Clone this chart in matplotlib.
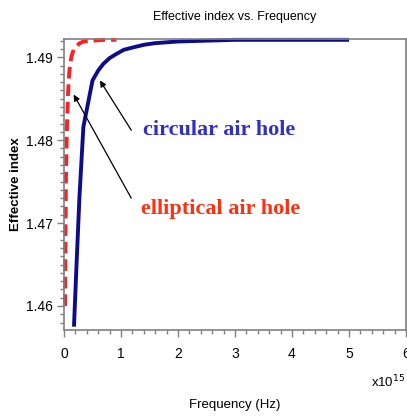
import matplotlib
matplotlib.use("Agg")
import matplotlib.pyplot as plt
from matplotlib.ticker import MultipleLocator

# Data (frequency in units of 1e15 Hz)
circ_freq = [0.175, 0.22, 0.27, 0.34, 0.42, 0.50, 0.60, 0.69, 0.80, 0.92, 1.05, 1.22, 1.40, 1.60, 2.0, 2.5, 3.0, 4.0, 5.0]
circ_neff = [1.4575, 1.4650, 1.4730, 1.4816, 1.4844, 1.4872, 1.4884, 1.4892, 1.4899, 1.4904, 1.4909, 1.4912, 1.4915, 1.4917, 1.4919, 1.4920, 1.4921, 1.4921, 1.4921]
ell_freq = [0.018, 0.025, 0.035, 0.05, 0.07, 0.09, 0.11, 0.135, 0.17, 0.22, 0.28, 0.34, 0.50, 0.70, 0.92]
ell_neff = [1.4600, 1.4680, 1.4760, 1.4812, 1.4855, 1.4880, 1.4893, 1.4902, 1.4909, 1.4914, 1.4917, 1.4919, 1.4920, 1.4921, 1.4921]

x_ticks = [0, 1, 2, 3, 4, 5, 6]
y_ticks = [1.46, 1.47, 1.48, 1.49]
y_tick_labels = ["1.46", "1.47", "1.48", "1.49"]

fig = plt.figure(figsize=(4.07, 4.17), dpi=100)
ax = fig.add_axes([64/407, 1 - 330/417, (406-64)/407, (330-39)/417])

ax.plot(circ_freq, circ_neff, color="#0d0d8c", lw=2.8, solid_capstyle="butt", clip_on=False)
ax.plot(ell_freq, ell_neff, color="#ff2020", lw=2.8, ls=(0, (3, 1.5)), clip_on=False)

ax.set_xlim(0, 6)
ax.set_ylim(1.4571, 1.4922)
ax.set_xticks(x_ticks)
ax.set_xticklabels([str(t) for t in x_ticks])
ax.set_yticks(y_ticks)
ax.set_yticklabels(y_tick_labels)
ax.xaxis.set_minor_locator(MultipleLocator(0.2))
ax.yaxis.set_minor_locator(MultipleLocator(0.001))

for s in ax.spines.values():
    s.set_color("#808080")
    s.set_linewidth(1.2)
ax.tick_params(which="major", direction="out", length=5, width=1, color="#808080",
               labelsize=10, labelcolor="black", pad=3)
ax.tick_params(axis="x", which="major", pad=7)
ax.tick_params(which="minor", direction="out", length=3, width=1, color="#808080")
for lab in ax.get_xticklabels() + ax.get_yticklabels():
    lab.set_family("Liberation Sans")

ax.set_title("Effective index vs. Frequency", fontsize=9, family="Liberation Sans", pad=14)
ax.set_xlabel("Frequency (Hz)", fontsize=9.5, family="Liberation Sans")
ax.xaxis.set_label_coords(0.5, -(405 - 330) / 291, transform=ax.transAxes)
ax.xaxis.label.set_va("center")
ax.set_ylabel("Effective index", fontsize=9.5, family="Liberation Sans", fontweight="bold")
ax.yaxis.set_label_coords(-(64 - 16) / 342, 0.5)
ax.yaxis.label.set_va("center")
fig.text(371/407, 1 - 382/417, r"x10$^{15}$", fontsize=9.5, family="Liberation Sans", va="center", ha="left")

arrow_kw = dict(arrowstyle="-|>", color="black", lw=0.9, mutation_scale=9, shrinkA=0, shrinkB=0)
ax.annotate("", xy=(0.63, 1.4872), xytext=(1.18, 1.4812), arrowprops=arrow_kw)
ax.annotate("", xy=(0.17, 1.4855), xytext=(1.18, 1.4730), arrowprops=arrow_kw)

ax.text(1.38, 1.4812, "circular air hole", color="#3030c8", fontsize=16, fontweight="bold",
        family="Liberation Serif", va="center", ha="left")
ax.text(1.35, 1.4717, "elliptical air hole", color="#ff3010", fontsize=16, fontweight="bold",
        family="Liberation Serif", va="center", ha="left")

fig.savefig("out.png", dpi=100)
